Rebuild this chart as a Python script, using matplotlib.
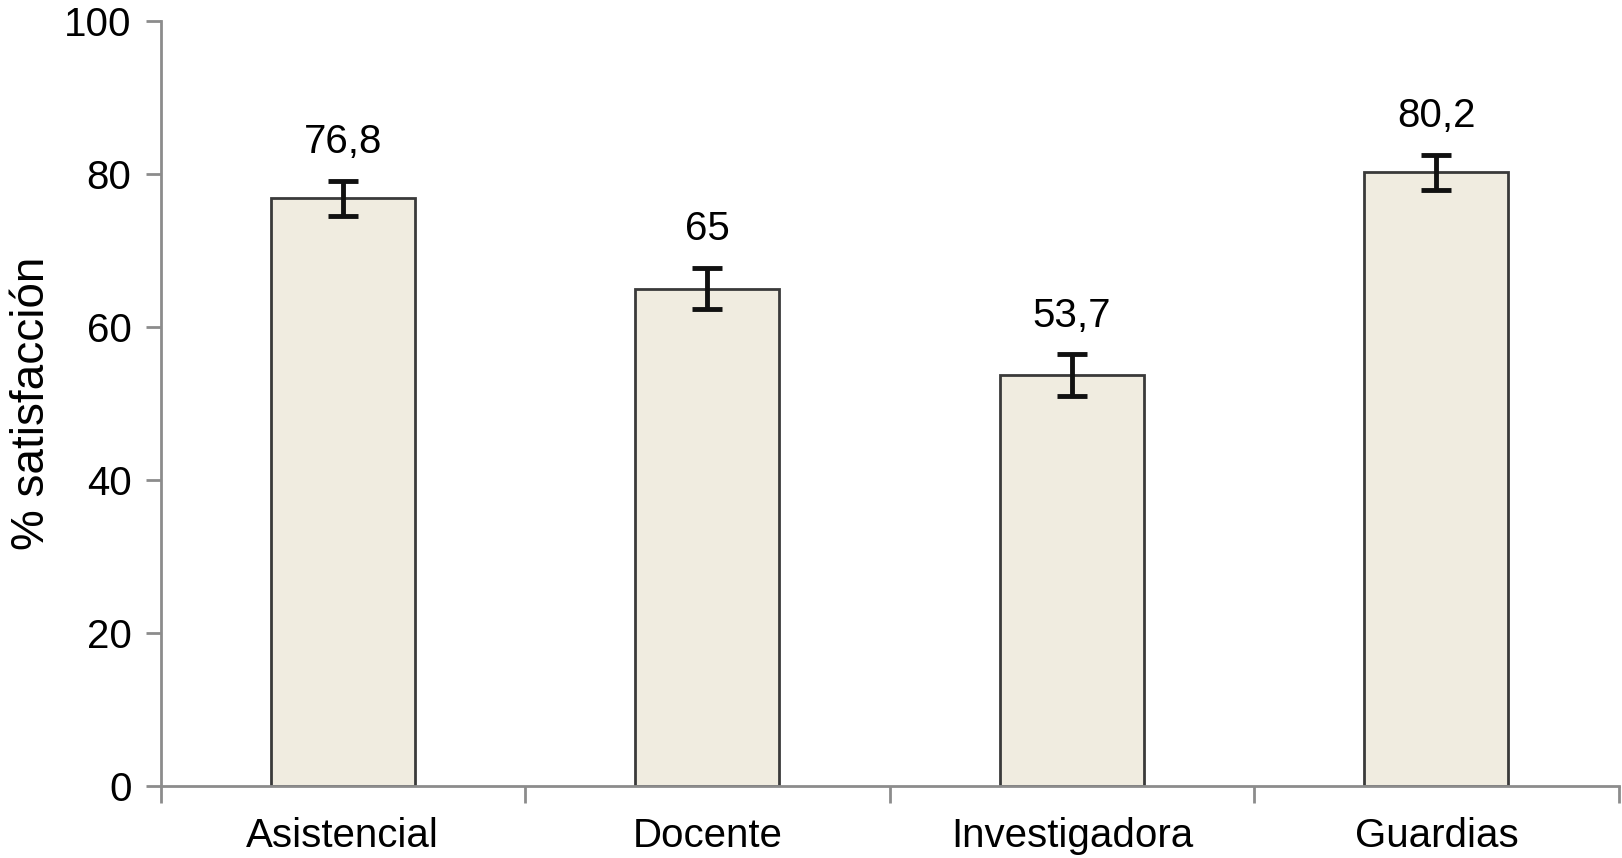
import numpy as np
import matplotlib
matplotlib.use("Agg")
import matplotlib.pyplot as plt

# datos del gráfico
categorias = ["Asistencial", "Docente", "Investigadora", "Guardias"]
satisfaccion = [76.8, 65, 53.7, 80.2]
errores = [2.3, 2.7, 2.7, 2.3]
etiquetas = ["76,8", "65", "53,7", "80,2"]

plt.rcParams['font.family'] = ['Liberation Sans', 'DejaVu Sans']

fig = plt.figure(figsize=(16.22, 8.58), dpi=100)
ax = fig.add_axes([0.099, 0.0839, 0.899, 0.892])

x = np.arange(len(categorias))
ax.bar(x, satisfaccion, width=0.395, color='#f0ece0', edgecolor='#3a3a3a',
       linewidth=2, zorder=2)
ax.errorbar(x, satisfaccion, yerr=errores, fmt='none', ecolor='#111111',
            elinewidth=3.5, capsize=11, capthick=3.5, zorder=3)

for xi, v, e, txt in zip(x, satisfaccion, errores, etiquetas):
    ax.annotate(txt, (xi, v + e), xytext=(0, 14), textcoords='offset points',
                ha='center', va='bottom', fontsize=29)

ax.set_xlim(-0.5, 3.5)
ax.set_ylim(0, 100)
ax.set_yticks([0, 20, 40, 60, 80, 100])
ax.set_xticks(x)
ax.set_xticklabels(categorias)
ax.set_xticks(np.arange(-0.5, 4, 1), minor=True)

ax.set_ylabel('% satisfacción', fontsize=33, labelpad=7)

gris = '#8c8c8c'
for lado in ['top', 'right']:
    ax.spines[lado].set_visible(False)
for lado in ['left', 'bottom']:
    ax.spines[lado].set_color(gris)
    ax.spines[lado].set_linewidth(2)

ax.tick_params(axis='y', which='major', length=11, width=2, color=gris,
               labelsize=29, pad=10)
ax.tick_params(axis='x', which='major', length=0, labelsize=29, pad=22)
ax.tick_params(axis='x', which='minor', length=12, width=2, color=gris)

fig.savefig('out.png', dpi=100)
